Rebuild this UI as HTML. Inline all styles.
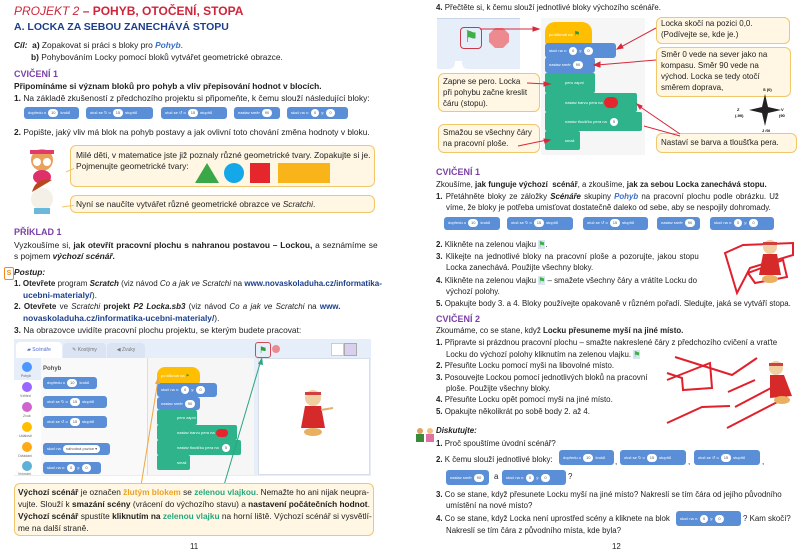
<!DOCTYPE html>
<html><head><meta charset="utf-8"><style>
body{margin:0;width:800px;height:555px;background:#fff;position:relative;overflow:hidden;font-family:"Liberation Sans",sans-serif;color:#222}
.t{position:absolute;font-size:7.9px;white-space:nowrap;line-height:10px}
.L .t{font-size:8.4px}
.b{font-weight:bold}
.h{position:absolute;color:#7b3fa6;font-weight:bold;font-size:9px;white-space:nowrap}
.bk{position:absolute;background:#5a8fd8;border-radius:3px;height:12px;color:#fff;font-size:4px;line-height:12px;padding:0 4px;white-space:nowrap;box-sizing:border-box}
.o{display:inline-block;background:#fff;color:#555;border-radius:5px;height:8px;line-height:8px;padding:0 3px;margin:0 2px;vertical-align:middle}
.box{position:absolute;background:#fff7e3;border:1px solid #f2c66b;border-radius:6px;box-sizing:border-box}
.g{position:absolute;background:#2eb38a;border-radius:2px;color:#fff;font-size:4px;white-space:nowrap;box-sizing:border-box;padding-left:20px}
.cb{position:absolute;font-size:8.3px;line-height:12px;white-space:nowrap;color:#222}
.url{color:#1c3f8c;font-weight:bold}
.p{color:#3a6fc4;font-weight:bold;font-style:italic}
</style></head><body>
<div class="L">
<div class="t" style="left:14px;top:4px;font-size:12px;line-height:14px;color:#d0243a;font-weight:bold"><i style="font-weight:normal">PROJEKT 2</i> – POHYB, OTOČENÍ, STOPA</div>
<div class="t" style="left:14px;top:21px;font-size:10.5px;line-height:12px;color:#1c3f8c;font-weight:bold">A. LOCKA ZA SEBOU ZANECHÁVÁ STOPU</div>
<div class="t" style="left:14px;top:40px"><b><i>Cíl:</i></b> &nbsp;<b>a)</b> Zopakovat si práci s bloky pro <span class="p">Pohyb</span>.</div>
<div class="t" style="left:31px;top:52px"><b>b)</b> Pohybováním Locky pomocí bloků vytvářet geometrické obrazce.</div>
<div class="h" style="left:14px;top:69px">CVIČENÍ 1</div>
<div class="t b" style="left:14px;top:81px">Připomínáme si význam bloků pro pohyb a vliv přepisování hodnot v blocích.</div>
<div class="t" style="left:14px;top:93px"><b>1.</b> Na základě zkušeností z předchozího projektu si připomeňte, k čemu slouží následující bloky:</div>
<div class="bk" style="left:24px;top:107px;width:55px">dopředu o<span class="o">10</span>kroků</div>
<div class="bk" style="left:86px;top:107px;width:67px">otoč se ↻ o<span class="o">15</span>stupňů</div>
<div class="bk" style="left:161px;top:107px;width:66px">otoč se ↺ o<span class="o">15</span>stupňů</div>
<div class="bk" style="left:234px;top:107px;width:46px">nastav směr<span class="o">90</span></div>
<div class="bk" style="left:287px;top:107px;width:61px">skoč na x:<span class="o">0</span>y:<span class="o">0</span></div>
<div class="t" style="left:14px;top:127px"><b>2.</b> Popište, jaký vliv má blok na pohyb postavy a jak ovlivní toto chování změna hodnoty v bloku.</div>
<div class="box" style="left:70px;top:145px;width:305px;height:42px"></div>
<div class="t" style="left:76px;top:150px">Milé děti, v matematice jste již poznaly různé geometrické tvary. Zopakujte si je.</div>
<div class="t" style="left:76px;top:161px">Pojmenujte geometrické tvary:</div>
<svg style="position:absolute;left:190px;top:160px" width="145" height="24"><polygon points="5,23 17,3 29,23" fill="#3aa848"/><circle cx="44" cy="13" r="10" fill="#14a8e8"/><rect x="60" y="3" width="20" height="20" fill="#e5262d"/><rect x="88" y="3" width="52" height="20" fill="#f8b418"/></svg>
<div class="box" style="left:70px;top:195px;width:305px;height:18px"></div>
<div class="t" style="left:76px;top:199px">Nyní se naučíte vytvářet různé geometrické obrazce ve <i>Scratchi</i>.</div>
<svg style="position:absolute;left:14px;top:142px" width="60" height="75"><path d="M52,30 L70,22 M48,65 L70,62" stroke="#f2c66b" stroke-width="1" fill="none"/><circle cx="28" cy="18" r="11" fill="#e8a25a"/><rect x="16" y="8" width="24" height="4" fill="#e23a6a"/><ellipse cx="28" cy="35" rx="9" ry="7" fill="#e0306a"/><circle cx="23" cy="20" r="4" fill="#fff"/><circle cx="33" cy="20" r="4" fill="#fff"/><circle cx="28" cy="57" r="11" fill="#f4f0e8"/><path d="M18,50 Q22,35 38,38" fill="#b8461e"/><rect x="20" y="66" width="16" height="6" fill="#6ab8dc"/></svg>
<div class="h" style="left:14px;top:227px">PŘÍKLAD 1</div>
<div class="t" style="left:14px;top:240px;word-spacing:0.5px">Vyzkoušíme si, <b>jak otevřít pracovní plochu s nahranou postavou – Lockou,</b> a seznámíme se</div>
<div class="t" style="left:14px;top:251px">s pojmem <b><i>výchozí scénář.</i></b></div>
<div style="position:absolute;left:4px;top:267px;width:8px;height:11px;border:1px solid #f08a1c;border-radius:2px;color:#f08a1c;font-size:7px;line-height:11px;text-align:center;font-weight:bold">S</div>
<div class="t" style="left:14px;top:267px"><b><i>Postup:</i></b></div>
<div class="t" style="left:14px;top:279px;font-size:8px"><b>1. Otevřete</b> program <b><i>Scratch</i></b> (viz návod <i>Co a jak ve Scratchi</i> na <span class="url">www.novaskoladuha.cz/informatika-</span></div>
<div class="t" style="left:23px;top:290px"><span class="url">ucebni-materialy/</span>).</div>
<div class="t" style="left:14px;top:302px;font-size:8px;word-spacing:1px"><b>2. Otevřete</b> ve <i>Scratchi</i> <b>projekt <i>P2 Locka.sb3</i></b> (viz návod <i>Co a jak ve Scratchi</i> na <span class="url">www.</span></div>
<div class="t" style="left:23px;top:313px"><span class="url">novaskoladuha.cz/informatika-ucebni-materialy/</span>).</div>
<div class="t" style="left:14px;top:325px"><b>3.</b> Na obrazovce uvidíte pracovní plochu projektu, se kterým budete pracovat:</div>
</div>
<!-- screenshot -->
<div style="position:absolute;left:14px;top:339px;width:357px;height:137px;background:#e6eefa"></div>
<div style="position:absolute;left:16px;top:342px;width:46px;height:17px;background:#fff;border-radius:4px 4px 0 0;font-size:5px;line-height:16px;color:#4c6bd0;text-align:center">▰ Scénáře</div>
<div style="position:absolute;left:63px;top:343px;width:43px;height:15px;background:#dbe4f3;border-radius:4px 4px 0 0;font-size:5px;line-height:15px;color:#777;text-align:center">✎ Kostýmy</div>
<div style="position:absolute;left:107px;top:343px;width:38px;height:15px;background:#dbe4f3;border-radius:4px 4px 0 0;font-size:5px;line-height:15px;color:#777;text-align:center">◀ Zvuky</div>
<div style="position:absolute;left:14px;top:358px;width:27px;height:117px;background:#fff;border-right:1px solid #ddd"></div>
<svg style="position:absolute;left:14px;top:358px" width="27" height="117" font-size="3.5" fill="#666" font-family="Liberation Sans"><rect x="0" y="0" width="27" height="22" fill="#e6eefa"/><circle cx="13" cy="9" r="5" fill="#4c97ff"/><text x="7" y="19">Pohyb</text><circle cx="13" cy="29" r="5" fill="#9966ff"/><text x="6" y="39">Vzhled</text><circle cx="13" cy="49" r="5" fill="#cf63cf"/><text x="9" y="59">Zvuk</text><circle cx="13" cy="69" r="5" fill="#ffbf00"/><text x="5" y="79">Události</text><circle cx="13" cy="89" r="5" fill="#ffab19"/><text x="4" y="99">Ovládání</text><circle cx="13" cy="108" r="5" fill="#5cb1d6"/><text x="4" y="117">Vnímání</text></svg>
<div style="position:absolute;left:41px;top:358px;width:106px;height:117px;background:#f9f9f9;border-right:1px solid #ddd"></div>
<div class="t b" style="left:43px;top:364px;font-size:6px;color:#555">Pohyb</div>
<div class="bk" style="left:43px;top:377px;width:54px">dopředu o<span class="o">10</span>kroků</div>
<div class="bk" style="left:43px;top:396px;width:64px">otoč se ↻ o<span class="o">15</span>stupňů</div>
<div class="bk" style="left:43px;top:416px;width:64px">otoč se ↺ o<span class="o">15</span>stupňů</div>
<div class="bk" style="left:43px;top:443px;width:67px">skoč na<span class="o">náhodná pozice ▾</span></div>
<div class="bk" style="left:43px;top:462px;width:58px">skoč na x:<span class="o">0</span>y:<span class="o">0</span></div>
<div style="position:absolute;left:148px;top:358px;width:106px;height:117px;background:#f6f6f6"></div>
<div style="position:absolute;left:157px;top:367px;width:43px;height:16px;background:#ffbf00;border-radius:8px 8px 2px 2px;font-size:4px;color:#fff;line-height:18px;padding-left:4px;box-sizing:border-box">po kliknutí na <span style="color:#2b9a3a">⚑</span></div>
<div class="bk" style="left:157px;top:383px;width:60px;height:14px;line-height:14px">skoč na x:<span class="o">0</span>y:<span class="o">0</span></div>
<div class="bk" style="left:157px;top:397px;width:43px;height:13px;line-height:13px">nastav směr<span class="o">90</span></div>
<div class="g" style="left:157px;top:410px;width:40px;height:15px;line-height:15px">pero zapni</div>
<div class="g" style="left:157px;top:425px;width:80px;height:15px;line-height:15px">nastav barvu pera na <span style="display:inline-block;width:12px;height:8px;background:#e5262d;border-radius:4px;vertical-align:middle"></span></div>
<div class="g" style="left:157px;top:440px;width:84px;height:15px;line-height:15px">nastav tloušťku pera na <span class="o">5</span></div>
<div class="g" style="left:157px;top:455px;width:33px;height:15px;line-height:15px">smaž</div>
<div style="position:absolute;left:258px;top:358px;width:112px;height:117px;background:#fff;border:1px solid #d8dee8;box-sizing:border-box"></div>
<div style="position:absolute;left:255px;top:342px;width:14px;height:14px;border:1px solid #d04a55;border-radius:3px;color:#2b9a3a;font-size:9px;line-height:14px;text-align:center">⚑</div>
<div style="position:absolute;left:272px;top:345px;width:8px;height:8px;background:#ec8a90;border-radius:50%"></div>
<div style="position:absolute;left:331px;top:343px;width:11px;height:11px;background:#fff;border:1px solid #ccc"></div>
<div style="position:absolute;left:344px;top:343px;width:11px;height:11px;background:#d9d0f0;border:1px solid #aaa"></div>
<svg style="position:absolute;left:295px;top:388px" width="40" height="50"><circle cx="18" cy="10" r="8" fill="#f0d0a0"/><rect x="10" y="4" width="16" height="3" fill="#d04040"/><polygon points="10,18 26,18 30,40 6,40" fill="#d62a2a"/><ellipse cx="18" cy="44" rx="9" ry="4" fill="#e8b060"/><line x1="26" y1="22" x2="38" y2="20" stroke="#e0b070" stroke-width="2"/></svg>
<svg style="position:absolute;left:0;top:0" width="400" height="555"><line x1="140" y1="492" x2="158" y2="380" stroke="#eea840" stroke-width="1"/><polygon points="158,377 155,384 160,384" fill="#eea840"/><line x1="222" y1="492" x2="261" y2="360" stroke="#2aa680" stroke-width="1"/><polygon points="262,357 258,364 263,365" fill="#2aa680"/></svg>
<div class="box" style="left:14px;top:483px;width:360px;height:53px"></div>
<div class="cb" style="left:18px;top:486px"><b>Výchozí scénář</b> je označen <b style="color:#eea020">žlutým blokem</b> se <b style="color:#24a880">zelenou vlajkou</b>. Nemažte ho ani nijak neupra-</div>
<div class="cb" style="left:18px;top:498px">vujte. Slouží k <b>smazání scény</b> (vrácení do výchozího stavu) a <b>nastavení počátečních hodnot</b>.</div>
<div class="cb" style="left:18px;top:510px"><b>Výchozí scénář</b> spustíte <b>kliknutím na</b> <b style="color:#24a880">zelenou vlajku</b> na horní liště. Výchozí scénář si vysvětlí-</div>
<div class="cb" style="left:18px;top:522px">me na další straně.</div>
<div class="t" style="left:190px;top:542px">11</div>

<!-- RIGHT PAGE -->
<div class="t" style="left:436px;top:3px"><b>4.</b> Přečtěte si, k čemu slouží jednotlivé bloky výchozího scénáře.</div>
<div style="position:absolute;left:437px;top:18px;width:83px;height:42px;background:#e6eefa;border-top:1px solid #c8d4e8"></div>
<div style="position:absolute;left:437px;top:59px;width:18px;height:10px;background:#e6eefa;border-radius:0 0 6px 0"></div>
<div style="position:absolute;left:462px;top:59px;width:58px;height:10px;background:#e6eefa;border-radius:0 0 0 6px"></div>
<div style="position:absolute;left:460px;top:27px;width:20px;height:20px;border:1px solid #c83a48;border-radius:4px;color:#3fb048;font-size:16px;line-height:20px;text-align:center">⚑</div>
<svg style="position:absolute;left:489px;top:28px" width="20" height="20"><polygon points="6,0 14,0 20,6 20,14 14,20 6,20 0,14 0,6" fill="#ec8a90"/></svg>
<div style="position:absolute;left:541px;top:18px;width:104px;height:137px;background:#f6f6f6"></div>
<div style="position:absolute;left:545px;top:22px;width:47px;height:22px;background:#ffbf00;border-radius:10px 10px 2px 2px;font-size:4px;color:#fff;line-height:26px;padding-left:4px;box-sizing:border-box">po kliknutí na <span style="color:#2b9a3a;font-size:7px">⚑</span></div>
<div class="bk" style="left:545px;top:43px;width:71px;height:15px;line-height:15px">skoč na x:<span class="o">0</span>y:<span class="o">0</span></div>
<div class="bk" style="left:545px;top:57px;width:50px;height:16px;line-height:16px">nastav směr<span class="o">90</span></div>
<div class="g" style="left:545px;top:73px;width:50px;height:20px;line-height:20px">pero zapni</div>
<div class="g" style="left:545px;top:93px;width:92px;height:19px;line-height:19px">nastav barvu pera na <span style="display:inline-block;width:14px;height:11px;background:#e5262d;border-radius:6px;vertical-align:middle"></span></div>
<div class="g" style="left:545px;top:112px;width:97px;height:19px;line-height:19px">nastav tloušťku pera na <span class="o">5</span></div>
<div class="g" style="left:545px;top:131px;width:35px;height:19px;line-height:19px">smaž</div>
<div class="box" style="left:656px;top:17px;width:134px;height:27px"></div>
<div class="cb" style="left:661px;top:18px;line-height:11px;font-size:8px">Locka skočí na pozici 0,0.<br>(Podívejte se, kde je.)</div>
<div class="box" style="left:656px;top:47px;width:135px;height:50px"></div>
<div class="cb" style="left:661px;top:49px;line-height:11px;font-size:8px">Směr 0 vede na sever jako na<br>kompasu. Směr 90 vede na<br>východ. Locka se tedy otočí<br>směrem doprava,</div>
<div class="box" style="left:438px;top:73px;width:102px;height:39px"></div>
<div class="cb" style="left:443px;top:76px;line-height:11px;font-size:8px">Zapne se pero. Locka<br>při pohybu začne kreslit<br>čáru (stopu).</div>
<div class="box" style="left:438px;top:124px;width:102px;height:29px"></div>
<div class="cb" style="left:443px;top:127px;line-height:11px;font-size:8px">Smažou se všechny čáry<br>na pracovní ploše.</div>
<div class="box" style="left:656px;top:133px;width:141px;height:20px"></div>
<div class="cb" style="left:661px;top:137px;line-height:11px;font-size:8px">Nastaví se barva a tloušťka pera.</div>
<svg style="position:absolute;left:735px;top:86px" width="50" height="46" font-size="4" font-family="Liberation Sans" font-weight="bold"><polygon points="30,8 33,21 46,24 33,27 30,40 27,27 14,24 27,21" fill="#222"/><text x="28" y="5">S (0)</text><text x="2" y="25">Z</text><text x="0" y="31">(-90)</text><text x="46" y="25">V</text><text x="44" y="31">(90)</text><text x="27" y="46">J (0)</text></svg>
<svg style="position:absolute;left:400px;top:0" width="400" height="555" fill="none" stroke="#d8283a" stroke-width="1"><line x1="80" y1="29" x2="136" y2="29"/><polygon points="139,29 133,27 133,31" fill="#d8283a"/><line x1="256" y1="28" x2="219" y2="48"/><polygon points="217,49 221,44 223,48" fill="#d8283a"/><line x1="256" y1="60" x2="197" y2="65"/><polygon points="194,65 200,62 200,67" fill="#d8283a"/><line x1="127" y1="83" x2="147" y2="84"/><polygon points="150,84 144,82 144,86" fill="#d8283a"/><line x1="118" y1="146" x2="147" y2="140"/><polygon points="150,140 144,139 145,143" fill="#d8283a"/><line x1="280" y1="134" x2="239" y2="106"/><polygon points="237,104 240,109 242,106" fill="#d8283a"/><line x1="280" y1="136" x2="244" y2="126"/></svg>
<div class="h" style="left:436px;top:167px">CVIČENÍ 1</div>
<div class="t" style="left:436px;top:180px">Zkoušíme, <b>jak funguje výchozí &nbsp;scénář</b>, a zkoušíme, <b>jak za sebou Locka zanechává stopu.</b></div>
<div class="t" style="left:436px;top:192px;word-spacing:1px"><b>1.</b> Přetáhněte bloky ze záložky <b><i>Scénáře</i></b> skupiny <span class="p">Pohyb</span> na pracovní plochu podle obrázku. Už</div>
<div class="t" style="left:446px;top:203px">víme, že bloky je potřeba umisťovat dostatečně daleko od sebe, aby se nespojily dohromady.</div>
<div class="bk" style="left:444px;top:217px;width:56px;height:13px">dopředu o<span class="o">10</span>kroků</div>
<div class="bk" style="left:507px;top:217px;width:66px;height:13px">otoč se ↻ o<span class="o">15</span>stupňů</div>
<div class="bk" style="left:583px;top:217px;width:65px;height:13px">otoč se ↺ o<span class="o">15</span>stupňů</div>
<div class="bk" style="left:657px;top:217px;width:43px;height:13px">nastav směr<span class="o">90</span></div>
<div class="bk" style="left:710px;top:217px;width:64px;height:13px">skoč na x:<span class="o">0</span>y:<span class="o">0</span></div>
<div class="t" style="left:436px;top:240px"><b>2.</b> Klikněte na zelenou vlajku <span style="background:#d8e6f4;color:#3fb048">⚑</span>.</div>
<div class="t" style="left:436px;top:252px;word-spacing:1px"><b>3.</b> Klikejte na jednotlivé bloky na pracovní ploše a pozorujte, jakou stopu</div>
<div class="t" style="left:446px;top:263px">Locka zanechává. Použijte všechny bloky.</div>
<div class="t" style="left:436px;top:276px"><b>4.</b> Klikněte na zelenou vlajku <span style="background:#d8e6f4;color:#3fb048">⚑</span> – smažete všechny čáry a vrátíte Locku do</div>
<div class="t" style="left:446px;top:287px">výchozí polohy.</div>
<div class="t" style="left:436px;top:299px"><b>5.</b> Opakujte body 3. a 4. Bloky používejte opakovaně v různém pořadí. Sledujte, jaká se vytváří stopa.</div>
<div class="h" style="left:436px;top:314px">CVIČENÍ 2</div>
<div class="t" style="left:436px;top:326px">Zkoumáme, co se stane, když <b>Locku přesuneme myší na jiné místo.</b></div>
<div class="t" style="left:436px;top:338px"><b>1.</b> Připravte si prázdnou pracovní plochu – smažte nakreslené čáry z předchozího cvičení a vraťte</div>
<div class="t" style="left:446px;top:350px">Locku do výchozí polohy kliknutím na zelenou vlajku. <span style="background:#d8e6f4;color:#3fb048">⚑</span></div>
<div class="t" style="left:436px;top:361px"><b>2.</b> Přesuňte Locku pomocí myši na libovolné místo.</div>
<div class="t" style="left:436px;top:373px"><b>3.</b> Posouvejte Lockou pomocí jednotlivých bloků na pracovní</div>
<div class="t" style="left:446px;top:384px">ploše. Použijte všechny bloky.</div>
<div class="t" style="left:436px;top:395px"><b>4.</b> Přesuňte Locku opět pomocí myši na jiné místo.</div>
<div class="t" style="left:436px;top:407px"><b>5.</b> Opakujte několikrát po sobě body 2. až 4.</div>
<svg style="position:absolute;left:400px;top:0" width="400" height="555" fill="none" stroke="#e0202c" stroke-width="2"><polygon points="325,253 343,245 393,243 393,255 350,268 337,293"/><polygon points="348,273 355,283 387,277 383,260"/><polyline points="267,380 310,363 312,388 283,390 282,378 267,373"/><polyline points="275,357 332,375 357,358"/><line x1="328" y1="392" x2="355" y2="380"/><line x1="335" y1="407" x2="373" y2="387"/><polyline points="267,423 302,407 330,406"/><line x1="327" y1="428" x2="387" y2="397"/></svg>
<svg style="position:absolute;left:752px;top:237px" width="40" height="50"><circle cx="18" cy="10" r="7" fill="#f0d0a0"/><rect x="11" y="5" width="14" height="3" fill="#d04040"/><polygon points="11,17 25,17 29,38 7,38" fill="#d62a2a"/><ellipse cx="18" cy="42" rx="8" ry="4" fill="#e8b060"/></svg>
<svg style="position:absolute;left:762px;top:358px" width="40" height="50"><circle cx="14" cy="10" r="7" fill="#f0d0a0"/><rect x="7" y="5" width="14" height="3" fill="#d04040"/><polygon points="8,17 22,17 30,38 8,40" fill="#d62a2a"/><ellipse cx="20" cy="42" rx="8" ry="4" fill="#e8b060"/></svg>
<svg style="position:absolute;left:414px;top:425px" width="22" height="20"><circle cx="6" cy="6" r="3" fill="#e0a060"/><rect x="2" y="9" width="8" height="8" fill="#3a8a3a"/><circle cx="16" cy="6" r="3" fill="#f0c080"/><rect x="12" y="9" width="8" height="8" fill="#e070a0"/></svg>
<div class="t" style="left:436px;top:426px"><b><i>Diskutujte:</i></b></div>
<div class="t" style="left:436px;top:439px"><b>1.</b> Proč spouštíme úvodní scénář?</div>
<div class="t" style="left:436px;top:455px"><b>2.</b> K čemu slouží jednotlivé bloky:</div>
<div class="bk" style="left:559px;top:450px;width:55px;height:15px;line-height:15px">dopředu o<span class="o">10</span>kroků</div>
<div class="t" style="left:615px;top:457px">,</div>
<div class="bk" style="left:620px;top:450px;width:66px;height:15px;line-height:15px">otoč se ↻ o<span class="o">15</span>stupňů</div>
<div class="t" style="left:688px;top:457px">,</div>
<div class="bk" style="left:694px;top:450px;width:66px;height:15px;line-height:15px">otoč se ↺ o<span class="o">15</span>stupňů</div>
<div class="t" style="left:762px;top:457px">,</div>
<div class="bk" style="left:446px;top:470px;width:43px;height:15px;line-height:15px">nastav směr<span class="o">90</span></div>
<div class="t" style="left:494px;top:472px">a</div>
<div class="bk" style="left:502px;top:470px;width:64px;height:15px;line-height:15px">skoč na x:<span class="o">0</span>y:<span class="o">0</span></div>
<div class="t" style="left:568px;top:472px">?</div>
<div class="t" style="left:436px;top:490px"><b>3.</b> Co se stane, když přesunete Locku myší na jiné místo? Nakreslí se tím čára od jejího původního</div>
<div class="t" style="left:446px;top:501px">umístění na nové místo?</div>
<div class="t" style="left:436px;top:514px"><b>4.</b> Co se stane, když Locka není uprostřed scény a kliknete na blok</div>
<div class="bk" style="left:676px;top:511px;width:65px;height:15px;line-height:15px">skoč na x:<span class="o">0</span>y:<span class="o">0</span></div>
<div class="t" style="left:743px;top:514px">? Kam skočí?</div>
<div class="t" style="left:446px;top:526px">Nakreslí se tím čára z původního místa, kde byla?</div>
<div class="t" style="left:612px;top:542px">12</div>
</body></html>
